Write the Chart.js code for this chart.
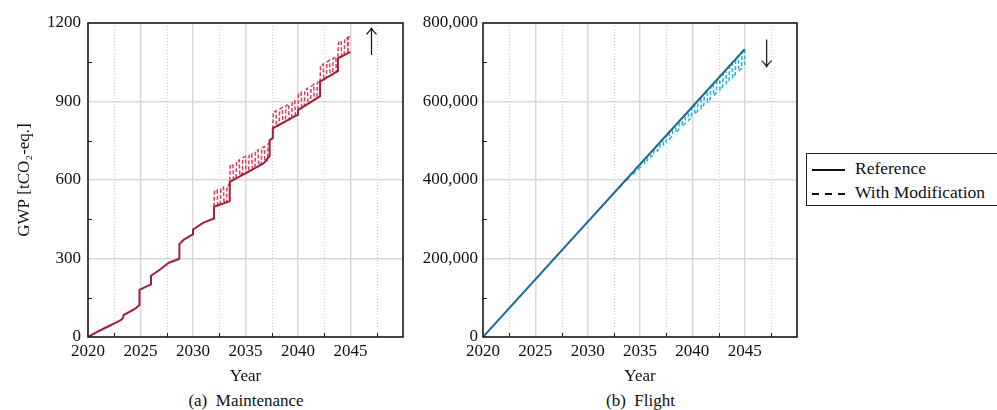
<!DOCTYPE html>
<html>
<head>
<meta charset="utf-8">
<script src="https://cdn.jsdelivr.net/npm/chart.js@4/dist/chart.umd.min.js"></script>
<style>
  body { margin: 0; background: #fff; font-family: "Liberation Serif", serif; color: #111; }
  #wrap { position: relative; width: 997px; height: 410px; overflow: hidden; }
  canvas { position: absolute; top: 0; }
  .caption { position: absolute; top: 391px; font-size: 17px; text-align: center; white-space: nowrap; }
  #legend { position: absolute; left: 806px; top: 153px; width: 220px; height: 53px;
            border: 1.3px solid #222; box-sizing: border-box; font-size: 17.5px; }
  .row { position: absolute; left: 5px; height: 20px; line-height: 20px; white-space: nowrap; }
  .sample { display: inline-block; width: 33px; height: 2px; vertical-align: middle; margin-right: 10px; }
</style>
</head>
<body>
<div id="wrap">
  <canvas id="maint" width="410" height="390" style="left:0"></canvas>
  <canvas id="flight" width="395" height="390" style="left:410px"></canvas>
  <div class="caption" style="left:0; width:492px">(a)&nbsp; Maintenance</div>
  <div class="caption" style="left:410px; width:461px">(b)&nbsp; Flight</div>
  <div id="legend">
    <div class="row" style="top:4px"><span class="sample" style="background:#111"></span>Reference</div>
    <div class="row" style="top:28px"><span class="sample" style="background:repeating-linear-gradient(to right, #111 0 7px, transparent 7px 13px)"></span>With Modification</div>
  </div>
</div>
<script>
// axis ticks
var yearTicksMinor = [2022.5, 2027.5, 2032.5, 2037.5, 2042.5, 2047.5];
var maintTicksMinor = [150, 450, 750, 1050];
var flightTicksMinor = [100000, 300000, 500000, 700000];

// maintenance, reference (steps are given as repeated years)
var maintRefYear = [2020.0, 2021.0, 2022.0, 2023.0, 2023.3, 2023.4, 2024.5, 2024.9, 2024.9, 2025.9, 2026.0, 2026.0,
    2026.9, 2027.7, 2028.6, 2028.7, 2028.7, 2029.1, 2029.9, 2030.0, 2030.0, 2031.0, 2032.0, 2032.0, 2033.4,
    2033.5, 2033.5, 2035.0, 2036.7, 2037.3, 2037.3, 2037.6, 2037.6, 2039.9, 2040.0, 2040.0, 2042.0, 2042.1,
    2042.1, 2043.7, 2043.8, 2043.8, 2045.0];
var maintRefGwp = [0, 22, 42, 62, 70, 84, 108, 122, 180, 199, 201, 234,
    259, 284, 297, 300, 355, 371, 390, 392, 411, 437, 453, 498, 517,
    520, 593, 625, 663, 692, 753, 760, 797, 848, 850, 867, 918, 920,
    976, 1014, 1016, 1065, 1090];

// maintenance, with modification
var maintModYear = [2032.00, 2032.05, 2032.30, 2032.35, 2032.60, 2032.65, 2032.90, 2032.95,
    2033.20, 2033.25, 2033.45, 2033.50, 2033.55, 2033.80, 2033.85,
    2034.10, 2034.15, 2034.40, 2034.45, 2034.70, 2034.75, 2035.00, 2035.05,
    2035.30, 2035.35, 2035.60, 2035.65, 2035.90, 2035.95, 2036.20, 2036.25,
    2036.50, 2036.55, 2036.80, 2036.85, 2037.10, 2037.15, 2037.30, 2037.35,
    2037.60, 2037.60, 2037.65, 2037.90, 2037.95,
    2038.20, 2038.25, 2038.50, 2038.55, 2038.80, 2038.85, 2039.10, 2039.15,
    2039.40, 2039.45, 2039.70, 2039.75, 2040.00, 2040.00, 2040.05, 2040.30, 2040.35,
    2040.60, 2040.65, 2040.90, 2040.95, 2041.20, 2041.25, 2041.50, 2041.55,
    2041.80, 2041.85, 2042.10, 2042.10, 2042.15, 2042.40, 2042.45,
    2042.70, 2042.75, 2043.00, 2043.05, 2043.30, 2043.35, 2043.60, 2043.65,
    2043.80, 2043.80, 2043.85, 2044.10, 2044.15,
    2044.40, 2044.45, 2044.70, 2044.75, 2044.80, 2045.00];
var maintModGwp = [498, 556, 562, 503, 507, 566, 572, 512,
    516, 576, 582, 593, 655, 660, 602,
    608, 670, 676, 617, 624, 685, 690, 626,
    633, 694, 700, 642, 648, 709, 715, 656,
    662, 722, 728, 669, 675, 737, 745, 754,
    760, 797, 858, 864, 805,
    810, 871, 877, 818, 823, 884, 890, 830,
    836, 897, 902, 843, 850, 867, 928, 934, 876,
    882, 943, 950, 891, 897, 958, 965, 906,
    912, 973, 980, 976, 1037, 1043, 984,
    990, 1051, 1057, 998, 1004, 1065, 1071, 1012,
    1016, 1065, 1126, 1131, 1072,
    1078, 1139, 1144, 1085, 1146, 1148];

// flight, reference
var flightRefYear = [2020, 2045];
var flightRefGwp = [0, 733000];

// flight, with modification
var flightModYear = [2033.00, 2033.05, 2033.30, 2033.35, 2033.60, 2033.65, 2033.90, 2033.95,
    2034.20, 2034.25, 2034.50, 2034.55, 2034.80, 2034.85, 2035.10, 2035.15,
    2035.40, 2035.45, 2035.70, 2035.75, 2036.00, 2036.05, 2036.30, 2036.35,
    2036.60, 2036.65, 2036.90, 2036.95, 2037.20, 2037.25, 2037.50, 2037.55,
    2037.80, 2037.85, 2038.10, 2038.15, 2038.40, 2038.45, 2038.70, 2038.75,
    2039.00, 2039.05, 2039.30, 2039.35, 2039.60, 2039.65, 2039.90, 2039.95,
    2040.20, 2040.25, 2040.50, 2040.55, 2040.80, 2040.85, 2041.10, 2041.15,
    2041.40, 2041.45, 2041.70, 2041.75, 2042.00, 2042.05, 2042.30, 2042.35,
    2042.60, 2042.65, 2042.90, 2042.95, 2043.20, 2043.25, 2043.50, 2043.55,
    2043.80, 2043.85, 2044.10, 2044.15, 2044.40, 2044.45, 2044.70, 2044.75,
    2045.00, 2045.00];
var flightModGwp = [381000, 381000, 388000, 391000, 399000, 396000, 404000, 409000,
    416000, 412000, 419000, 427000, 434000, 427000, 435000, 444000,
    452000, 443000, 450000, 462000, 469000, 459000, 466000, 479000,
    487000, 474000, 482000, 497000, 504000, 490000, 497000, 515000,
    522000, 505000, 513000, 532000, 539000, 521000, 528000, 550000,
    557000, 537000, 544000, 567000, 575000, 552000, 559000, 585000,
    592000, 568000, 575000, 603000, 610000, 583000, 591000, 620000,
    627000, 599000, 606000, 638000, 645000, 615000, 622000, 655000,
    663000, 630000, 637000, 673000, 680000, 646000, 653000, 690000,
    698000, 661000, 669000, 708000, 715000, 677000, 684000, 726000,
    733000, 693000];

Chart.defaults.font.family = '"Liberation Serif", serif';
Chart.defaults.font.size = 17;
Chart.defaults.color = '#111';

function toPoints(xs, ys) {
    var pts = [];
    for (var i = 0; i < xs.length && i < ys.length; ++i) {
        pts.push({x: xs[i], y: ys[i]});
    }
    return pts;
}

// dotted minor grid, inward minor ticks, black frame and the trend arrow
var framePlugin = {
    id: 'frame',
    beforeDatasetsDraw: function (chart, args, opts) {
        var ctx = chart.ctx, a = chart.chartArea;
        var xs = chart.scales.x, ys = chart.scales.y;
        ctx.save();
        ctx.lineWidth = 1;
        ctx.strokeStyle = '#cfcfcf';
        ctx.setLineDash([1, 2]);
        opts.minorX.forEach(function (v) {
            var px = Math.round(xs.getPixelForValue(v)) + 0.5;
            ctx.beginPath(); ctx.moveTo(px, a.top); ctx.lineTo(px, a.bottom); ctx.stroke();
        });
        ctx.setLineDash([]);
        ctx.strokeStyle = '#222';
        opts.minorX.forEach(function (v) {
            var px = Math.round(xs.getPixelForValue(v)) + 0.5;
            ctx.beginPath(); ctx.moveTo(px, a.bottom); ctx.lineTo(px, a.bottom - 4); ctx.stroke();
        });
        opts.minorY.forEach(function (v) {
            var py = Math.round(ys.getPixelForValue(v)) + 0.5;
            ctx.beginPath(); ctx.moveTo(a.left, py); ctx.lineTo(a.left + 4, py); ctx.stroke();
        });
        ctx.restore();
    },
    afterDraw: function (chart, args, opts) {
        var ctx = chart.ctx, a = chart.chartArea;
        var xs = chart.scales.x, ys = chart.scales.y;
        ctx.save();
        ctx.strokeStyle = '#111';
        ctx.lineWidth = 1.5;
        ctx.strokeRect(a.left, a.top, a.right - a.left, a.bottom - a.top);

        var px = xs.getPixelForValue(opts.arrow.x);
        var y0 = ys.getPixelForValue(opts.arrow.from);
        var y1 = ys.getPixelForValue(opts.arrow.to);
        var dir = y1 < y0 ? 1 : -1;
        ctx.lineWidth = 1.2;
        ctx.beginPath();
        ctx.moveTo(px, y0); ctx.lineTo(px, y1);
        ctx.moveTo(px - 5, y1 + dir * 6); ctx.quadraticCurveTo(px - 1, y1 + dir * 2, px, y1);
        ctx.quadraticCurveTo(px + 1, y1 + dir * 2, px + 5, y1 + dir * 6);
        ctx.stroke();
        ctx.restore();
    }
};

function makeChart(canvasId, cfg) {
    return new Chart(document.getElementById(canvasId), {
        type: 'line',
        data: {
            datasets: [
                {
                    label: 'Reference',
                    data: toPoints(cfg.refYear, cfg.refGwp),
                    borderColor: cfg.refColor,
                    borderWidth: 2,
                    pointRadius: 0,
                    order: 0
                },
                {
                    label: 'With Modification',
                    data: toPoints(cfg.modYear, cfg.modGwp),
                    borderColor: cfg.modColor,
                    borderWidth: 1.5,
                    borderDash: [4, 2],
                    pointRadius: 0,
                    order: 1
                }
            ]
        },
        options: {
            responsive: false,
            animation: false,
            devicePixelRatio: 1,
            layout: {padding: {top: 23, right: cfg.padRight, left: 0, bottom: 0}},
            plugins: {
                legend: {display: false},
                tooltip: {enabled: false},
                frame: {minorX: yearTicksMinor, minorY: cfg.minorY, arrow: cfg.arrow}
            },
            scales: {
                x: {
                    type: 'linear',
                    min: 2020,
                    max: 2050,
                    afterFit: function (s) { s.height = 53; },
                    ticks: {
                        stepSize: 5,
                        autoSkip: false,
                        maxRotation: 0,
                        padding: 4,
                        callback: function (v) { return v >= 2050 ? '' : String(v); }
                    },
                    grid: {color: '#d9d9d9', lineWidth: 1.5, drawTicks: false},
                    border: {display: false},
                    title: {display: true, text: 'Year', padding: {top: 0, bottom: 3}}
                },
                y: {
                    min: 0,
                    max: cfg.yMax,
                    afterFit: function (s) { s.width = cfg.yWidth; },
                    ticks: {
                        stepSize: cfg.yStep,
                        padding: cfg.yPad,
                        callback: cfg.yFormat
                    },
                    grid: {color: '#d9d9d9', lineWidth: 1.5, drawTicks: false},
                    border: {display: false},
                    title: {display: !!cfg.yTitle, text: cfg.yTitle, padding: {top: 14, bottom: 0}}
                }
            }
        },
        plugins: [framePlugin]
    });
}

makeChart('maint', {
    refYear: maintRefYear, refGwp: maintRefGwp,
    modYear: maintModYear, modGwp: maintModGwp,
    refColor: '#a31f3d', modColor: '#d8405f',
    yMax: 1200, yStep: 300, yWidth: 88, yPad: 7, padRight: 7,
    yFormat: function (v) { return String(v); },
    minorY: maintTicksMinor,
    yTitle: 'GWP [tCO₂-eq.]',
    arrow: {x: 2047.0, from: 1078, to: 1180}
});

makeChart('flight', {
    refYear: flightRefYear, refGwp: flightRefGwp,
    modYear: flightModYear, modGwp: flightModGwp,
    refColor: '#1b6d98', modColor: '#2ab3d4',
    yMax: 800000, yStep: 200000, yWidth: 73, yPad: 5, padRight: 8,
    yFormat: function (v) { return v.toLocaleString('en-US'); },
    minorY: flightTicksMinor,
    yTitle: '',
    arrow: {x: 2047.1, from: 758000, to: 689000}
});
</script>
</body>
</html>
